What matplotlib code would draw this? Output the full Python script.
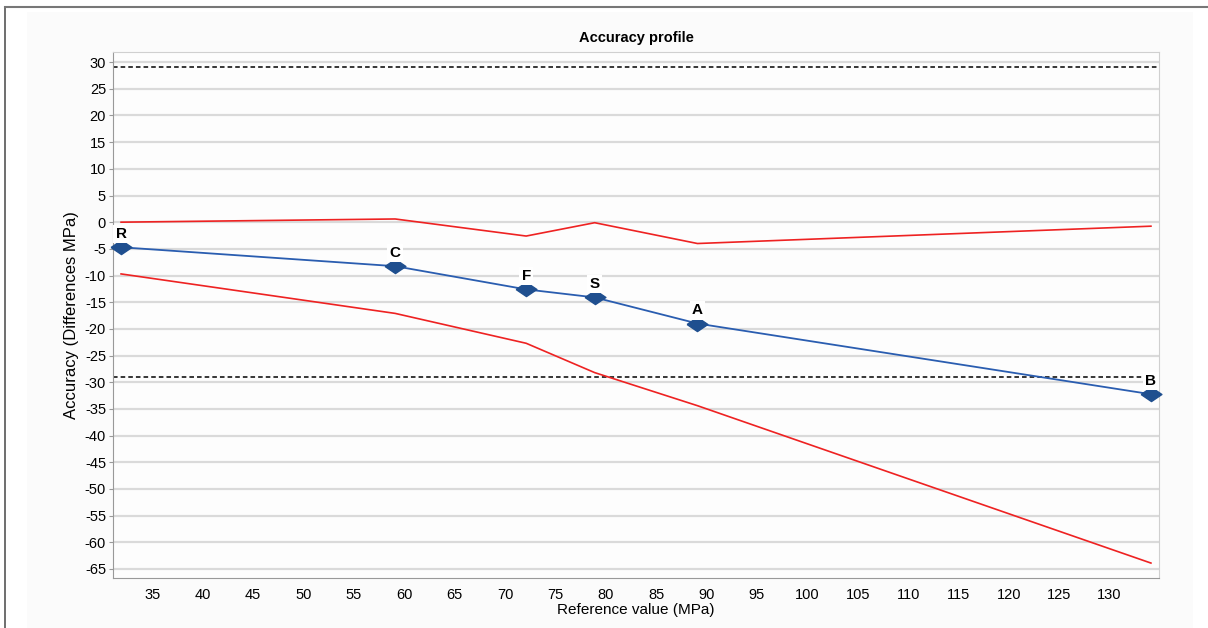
import matplotlib
matplotlib.use("Agg")
import matplotlib.pyplot as plt
from matplotlib.lines import Line2D

plt.rcParams['font.family'] = ['Liberation Sans', 'DejaVu Sans']
plt.rcParams['axes.unicode_minus'] = False

# data
ref_values = [31.9, 59.1, 72.1, 78.9, 89.1, 134.1]
labels = ['R', 'C', 'F', 'S', 'A', 'B']
accuracy = [-4.7, -8.25, -12.6, -14.1, -19.0, -32.25]
upper_limit = [0.0, 0.6, -2.6, -0.1, -4.0, -0.75]
lower_limit = [-9.7, -17.1, -22.7, -28.2, -34.4, -63.9]
acceptance = 29.0

fig = plt.figure(figsize=(12.08, 6.28), dpi=100)
fig.patch.set_facecolor('white')

# light panel and the partial border of the screenshot
fig.patches.append(plt.Rectangle((27 / 1208, 0), (1193 - 27) / 1208, 1 - 12 / 628,
                                 transform=fig.transFigure, facecolor='#fbfbfb',
                                 edgecolor='none', zorder=-2))
fig.add_artist(Line2D([5 / 1208, 5 / 1208], [0, 1 - 7 / 628], transform=fig.transFigure,
                      color='#555555', lw=1.2))
fig.add_artist(Line2D([5 / 1208, 1], [1 - 7 / 628, 1 - 7 / 628], transform=fig.transFigure,
                      color='#777777', lw=1.5))

ax = fig.add_axes([113 / 1208, 1 - 578 / 628, (1159 - 113) / 1208, (578 - 52) / 628])
ax.set_facecolor('#fdfdfd')

ax.set_xlim(31.1, 134.9)
ax.set_ylim(-66.7, 31.9)
ax.set_xticks(range(35, 131, 5))
ax.set_yticks(range(-65, 31, 5))
ax.yaxis.grid(True, color='#dadada', lw=1.6)
ax.set_axisbelow(True)

for side in ['top', 'right']:
    ax.spines[side].set_color('#d0d0d0')
for side in ['left', 'bottom']:
    ax.spines[side].set_color('#999999')
ax.tick_params(axis='y', length=3, color='#999999', labelsize=10.5, pad=2)
ax.tick_params(axis='x', length=0, labelsize=10.5, pad=7)

ax.axhline(acceptance, color='black', ls=(0, (3, 2)), lw=1.1)
ax.axhline(-acceptance, color='black', ls=(0, (3, 2)), lw=1.1)

ax.plot(ref_values, upper_limit, color='#ee2222', lw=1.2)
ax.plot(ref_values, lower_limit, color='#ee2222', lw=1.2)
diamond = [(-1, 0), (0, 0.68), (1, 0), (0, -0.68), (-1, 0)]
ax.plot(ref_values, accuracy, color='#2a5db0', lw=1.3, marker=diamond, ms=15,
        markerfacecolor='#1f4f8f', markeredgecolor='#1f4f8f', clip_on=False, zorder=3)

for x, y, lab in zip(ref_values, accuracy, labels):
    ax.annotate(lab, (x, y), xytext=(0, 4.5), textcoords='offset points', ha='center',
                va='bottom', fontsize=11, fontweight='bold',
                bbox=dict(boxstyle='square,pad=0.15', fc='white', ec='none'), zorder=4)

ax.set_title('Accuracy profile', fontsize=10.5, fontweight='bold', pad=7)
ax.set_xlabel('Reference value (MPa)', fontsize=11, labelpad=1)
ax.set_ylabel('Accuracy (Differences MPa)', fontsize=12, labelpad=4)

fig.savefig('out.png', dpi=100)
